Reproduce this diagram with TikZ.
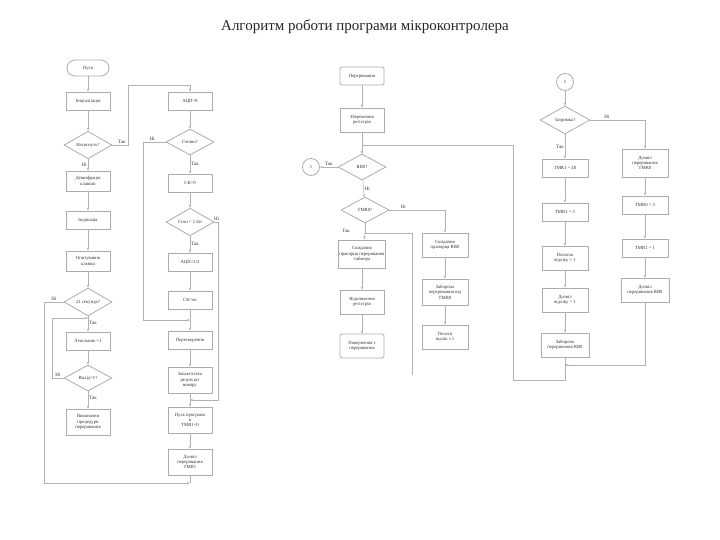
\documentclass[tikz,border=0pt]{standalone}
\usepackage{fontspec}
\setmainfont{Liberation Serif}
\usetikzlibrary{shapes.geometric,arrows.meta}
\begin{document}
\begin{tikzpicture}[x=1pt,y=-1pt,
  every node/.style={font=\fontsize{4.7}{5.4}\selectfont, text=black!80},
  blk/.style={draw=gray!65, line width=0.8pt, minimum width=44pt, minimum height=18pt, align=center, inner sep=0.5pt},
  dia/.style={diamond, draw=gray!65, line width=0.8pt, minimum width=48pt, minimum height=26pt, inner sep=0pt, align=center},
  term/.style={draw=gray!65, line width=0.8pt, rounded corners=8pt, minimum width=42pt, minimum height=16pt},
  conn/.style={circle, draw=gray!65, line width=0.8pt, minimum size=17pt, inner sep=0pt},
  ln/.style={draw=gray!60, line width=0.5pt},
  ar/.style={ln, -{Stealth[length=3pt,width=2.5pt]}},
  lab/.style={font=\fontsize{5}{5.5}\selectfont, inner sep=1pt}]
\useasboundingbox (0,0) rectangle (720,540);
\node[font=\fontsize{15}{17}\selectfont, text=black!85] (title) at (365,27) {Алгоритм роботи програми мікроконтролера};

% column 1
\node[term] (s) at (88,68) {Пуск};
\node[blk] (a1) at (88,101) {Ініціалізація};
\node[dia] (ad1) at (88,145) {Натиснуто?};
\node[blk, minimum height=20pt] (a2) at (88,181) {Дешифрація\\клавіші};
\node[blk] (a3) at (88,220) {Індикація};
\node[blk, minimum height=20pt] (a4) at (88,261) {Опитування\\клавіш};
\node[dia] (ad2) at (88,302) {21 секунда?};
\node[blk] (a5) at (88,341) {Лічильник +1};
\node[dia] (ad3) at (88,378) {Вихід=1?};
\node[blk, minimum height=26pt] (a6) at (88,422) {Виконання\\процедури\\переривання};

% column 2
\node[blk] (b1) at (190,101) {АЦП=0};
\node[dia] (bd1) at (190,142) {Готово?};
\node[blk] (b2) at (190,183) {СК=0};
\node[dia] (bd2) at (190,222) {Стоп = 1 біт};
\node[blk] (b3) at (190,262) {АЦП+1/2};
\node[blk] (b4) at (190,300) {СК=on};
\node[blk] (b5) at (190,340) {Перетворення};
\node[blk, minimum height=26pt] (b6) at (190,380) {Запам'ятати\\результат\\виміру};
\node[blk, minimum height=26pt] (b7) at (190,420) {Пуск програми\\в\\TMR1=0};
\node[blk, minimum height=26pt] (b8) at (190,462) {Дозвіл\\переривання\\TMR1};

% column 3
\node[blk, rounded corners=1.5pt] (c1) at (362,76) {Переривання};
\node[blk, minimum height=24pt] (c2) at (362,120) {Збереження\\регістрів};
\node[dia] (cd1) at (362,167) {RB0?};
\node[conn] (cc) at (311,167) {1};
\node[dia] (cd2) at (365,210) {TMR0?};
\node[blk, minimum width=46pt, minimum height=28pt] (c3) at (362,254) {Скидання\\прапорця переривання\\таймера};
\node[blk, minimum height=24pt] (c4) at (362,302) {Відновлення\\регістрів};
\node[blk, minimum height=24pt, rounded corners=1.5pt] (c5) at (362,346) {Повернення з\\переривання};
\node[blk, minimum width=46pt, minimum height=24pt] (c6) at (445,245) {Скидання\\прапорця RB0};
\node[blk, minimum width=46pt, minimum height=26pt] (c7) at (445,292) {Заборона\\переривання від\\TMR0};
\node[blk, minimum width=46pt, minimum height=24pt] (c8) at (445,337) {Почати\\відлік з 1};

% column 4
\node[conn] (dc) at (565,82) {1};
\node[dia, minimum width=50pt, minimum height=28pt] (dd) at (565,120) {Затримка?};
\node[blk, minimum width=46pt] (d1) at (565,168) {TMR1 = 40};
\node[blk, minimum width=46pt] (d2) at (565,212) {TMR1 = 3};
\node[blk, minimum width=46pt, minimum height=24pt] (d3) at (565,258) {Початок\\відліку = 1};
\node[blk, minimum width=46pt, minimum height=24pt] (d4) at (565,300) {Дозвіл\\відліку = 1};
\node[blk, minimum width=48pt, minimum height=24pt] (d5) at (565,345) {Заборона\\переривання RB0};
\node[blk, minimum width=46pt, minimum height=28pt] (e1) at (645,163) {Дозвіл\\переривання\\TMR0};
\node[blk, minimum width=46pt] (e2) at (645,205) {TMR0 = 3};
\node[blk, minimum width=46pt] (e3) at (645,248) {TMR1 = 1};
\node[blk, minimum width=48pt, minimum height=24pt] (e4) at (645,290) {Дозвіл\\переривання RB0};

% coordinates
\coordinate (p1) at (128,145); \coordinate (p2) at (128,85); \coordinate (p3) at (190,85);
\coordinate (q1) at (52,378); \coordinate (q2) at (52,318); \coordinate (q3) at (88,318);
\coordinate (r1) at (44,302); \coordinate (r2) at (44,483); \coordinate (r3) at (190,483);
\coordinate (u1) at (143,142); \coordinate (u2) at (143,320); \coordinate (u3) at (190,320);
\coordinate (v1) at (218,222); \coordinate (v2) at (218,400); \coordinate (v3) at (190,400);
\coordinate (w1) at (445,210);
\coordinate (t0) at (365,233); \coordinate (t1) at (412,233); \coordinate (t2) at (412,375);
\coordinate (k1) at (645,120);
\coordinate (j1) at (565,365); \coordinate (j2) at (645,365);
\coordinate (m1) at (565,380); \coordinate (m2) at (513,380); \coordinate (m3) at (513,145); \coordinate (m4) at (362,145);

% column 1 connectors
\draw[ar] (s) -- (a1);
\draw[ar] (a1) -- (ad1);
\draw[ar] (ad1) -- node[lab, pos=0.5, left] {Ні} (a2);
\draw[ar] (ad1.east) -- node[lab, above, pos=0.6] {Так} (p1) -- (p2) -- (p3) -- (b1);
\draw[ar] (a2) -- (a3);
\draw[ar] (a3) -- (a4);
\draw[ar] (a4) -- (ad2);
\draw[ar] (ad2) -- node[lab, right, pos=0.45] {Так} (a5);
\draw[ar] (a5) -- (ad3);
\draw[ar] (ad3) -- node[lab, right, pos=0.4] {Так} (a6);
\draw[ar] (ad3.west) -- node[lab, above, pos=0.5] {Ні} (q1) -- (q2) -- (q3);
\draw[ar] (ad2.west) -- node[lab, above, pos=0.5] {Ні} (r1) -- (r2) -- (r3);
\draw[ln] (b8) -- (r3);

% column 2 connectors
\draw[ar] (b1) -- (bd1);
\draw[ar] (bd1) -- node[lab, right, pos=0.45] {Так} (b2);
\draw[ar] (bd1.west) -- node[lab, above, pos=0.6] {Ні} (u1) -- (u2) -- (u3);
\draw[ar] (b2) -- (bd2);
\draw[ar] (bd2) -- node[lab, right, pos=0.45] {Так} (b3);
\draw[ar] (bd2.east) -- node[lab, above, pos=0.6] {Ні} (v1) -- (v2) -- (v3);
\draw[ar] (b3) -- (b4);
\draw[ar] (b4) -- (b5);
\draw[ar] (b5) -- (b6);
\draw[ar] (b6) -- (b7);
\draw[ar] (b7) -- (b8);

% column 3 connectors
\draw[ar] (c1) -- (c2);
\draw[ar] (c2) -- (cd1);
\draw[ar] (cd1.west) -- node[lab, above] {Так} (cc);
\draw[ar] (cd1) -- node[lab, right, pos=0.5] {Ні} (cd2);
\draw[ar] (cd2.east) -- node[lab, above, pos=0.25] {Ні} (w1) -- (c6);
\draw[ln] (cd2.south) -- (t0);
\draw[ar] (t0) -- (c3);
\node[lab] (tk) at (346,231) {Так};
\draw[ln] (t0) -- (t1) -- (t2);
\draw[ar] (c3) -- (c4);
\draw[ar] (c4) -- (c5);
\draw[ar] (c6) -- (c7);
\draw[ar] (c7) -- (c8);

% column 4 connectors
\draw[ar] (dc) -- (dd);
\draw[ar] (dd) -- node[lab, left, pos=0.5] {Так} (d1);
\draw[ar] (dd.east) -- node[lab, above, pos=0.3] {Ні} (k1) -- (e1);
\draw[ar] (d1) -- (d2);
\draw[ar] (d2) -- (d3);
\draw[ar] (d3) -- (d4);
\draw[ar] (d4) -- (d5);
\draw[ar] (e1) -- (e2);
\draw[ar] (e2) -- (e3);
\draw[ar] (e3) -- (e4);
\draw[ln] (d5) -- (j1);
\draw[ar] (e4) -- (j2) -- (j1);
\draw[ar] (j1) -- (m1) -- (m2) -- (m3) -- (m4) -- (cd1);
\end{tikzpicture}
\end{document}
